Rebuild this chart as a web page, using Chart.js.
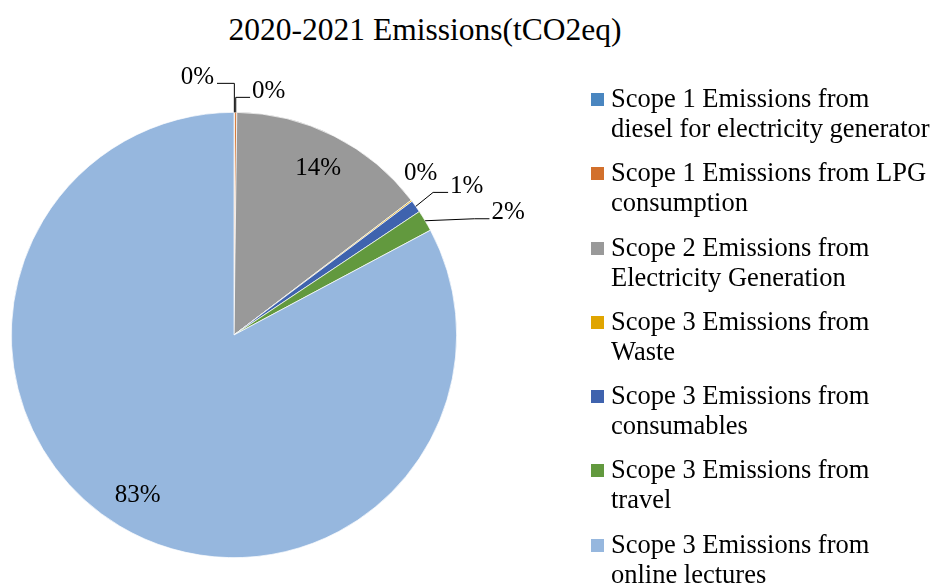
<!DOCTYPE html>
<html>
<head>
<meta charset="utf-8">
<script src="https://cdn.jsdelivr.net/npm/chart.js@4/dist/chart.umd.min.js"></script>
<style>
  html, body { margin: 0; padding: 0; background: #fff; }
  .wrap { position: relative; width: 936px; height: 587px; overflow: hidden; font-family: "Liberation Serif", "Times New Roman", serif; color: #000; }
  #pie { position: absolute; left: 0; top: 0; }
  .title { position: absolute; left: 0; width: 850px; top: 10px; text-align: center; font-size: 31.5px; line-height: 40px; }
  .legend { position: absolute; left: 591px; top: 83px; }
  .legend .item { position: relative; padding-left: 20px; font-size: 26.5px; line-height: 30px; height: 74.3px; white-space: nowrap; }
  .legend .sw { position: absolute; left: 0; top: 10px; width: 13px; height: 13px; }
</style>
</head>
<body>
<div class="wrap">
  <div class="title" id="title"></div>
  <canvas id="pie" width="936" height="587"></canvas>
  <div class="legend" id="legend"></div>
</div>
<script>
// chart data
const chartTitle = "2020-2021 Emissions(tCO2eq)";
const categories = [
  ["Scope 1 Emissions from", "diesel for electricity generator"],
  ["Scope 1 Emissions from LPG", "consumption"],
  ["Scope 2 Emissions from", "Electricity Generation"],
  ["Scope 3 Emissions from", "Waste"],
  ["Scope 3 Emissions from", "consumables"],
  ["Scope 3 Emissions from", "travel"],
  ["Scope 3 Emissions from", "online lectures"]
];
const shares = [0.05, 0.15, 14.45, 0.1, 0.9, 1.55, 82.8];
const sliceColors = ["#4a86c0", "#d2702c", "#999999", "#e0a500", "#3f63ae", "#62993e", "#96b7de"];

document.getElementById("title").textContent = chartTitle;

// legend on the right
const legendEl = document.getElementById("legend");
categories.forEach((lines, i) => {
  const item = document.createElement("div");
  item.className = "item";
  const sw = document.createElement("span");
  sw.className = "sw";
  sw.style.background = sliceColors[i];
  item.appendChild(sw);
  lines.forEach((t, k) => {
    if (k) item.appendChild(document.createElement("br"));
    item.appendChild(document.createTextNode(t));
  });
  legendEl.appendChild(item);
});

// where the small slices put their labels (offset from the rim point)
const outside = {
  0: { dx: -37, dy: -35, bend: "v" },
  1: { dx: 33, dy: -21, bend: "v" },
  3: { dx: 9, dy: -27, bend: "none" },
  4: { dx: 51, dy: -20, bend: "d" },
  5: { dx: 83, dy: -8, bend: "d" }
};

const pctLabels = {
  id: "pctLabels",
  afterDatasetsDraw(chart) {
    const ctx = chart.ctx;
    const meta = chart.getDatasetMeta(0);
    const data = chart.data.datasets[0].data;
    const total = data.reduce((a, b) => a + b, 0);
    ctx.save();
    ctx.font = '25px "Liberation Serif", serif';
    ctx.fillStyle = "#000";
    ctx.strokeStyle = "#000";
    ctx.lineWidth = 1;
    ctx.textBaseline = "middle";
    ctx.textAlign = "center";
    meta.data.forEach((arc, i) => {
      const p = arc.getProps(["x", "y", "startAngle", "endAngle", "outerRadius"], true);
      const mid = (p.startAngle + p.endAngle) / 2;
      const txt = Math.round(data[i] / total * 100) + "%";
      const o = outside[i];
      if (!o) {
        const r = p.outerRadius * 0.84;
        ctx.fillText(txt, p.x + Math.cos(mid) * r, p.y + Math.sin(mid) * r);
        return;
      }
      const ex = p.x + Math.cos(mid) * p.outerRadius;
      const ey = p.y + Math.sin(mid) * p.outerRadius;
      const lx = ex + o.dx, ly = ey + o.dy;
      ctx.fillText(txt, lx, ly);
      const w = ctx.measureText(txt).width;
      const right = o.dx > 0;
      const side = right ? lx - w / 2 - 2 : lx + w / 2 + 3;
      const yy = ly + 6;
      ctx.beginPath();
      if (o.bend === "v") {
        ctx.moveTo(ex, ey);
        ctx.lineTo(ex, yy);
        ctx.lineTo(side, yy);
      } else if (o.bend === "d") {
        ctx.moveTo(ex, ey);
        ctx.lineTo(side - 15, yy);
        ctx.lineTo(side, yy);
      }
      ctx.stroke();
    });
    ctx.restore();
  }
};

new Chart(document.getElementById("pie"), {
  type: "pie",
  data: {
    labels: categories.map(l => l.join(" ")),
    datasets: [{
      data: shares,
      backgroundColor: sliceColors,
      borderColor: "#ffffff",
      borderWidth: 0.7
    }]
  },
  options: {
    responsive: false,
    animation: false,
    layout: { padding: { left: 11, top: 112, right: 479, bottom: 29 } },
    plugins: {
      legend: { display: false },
      title: { display: false },
      tooltip: { enabled: false }
    }
  },
  plugins: [pctLabels]
});
</script>
</body>
</html>
